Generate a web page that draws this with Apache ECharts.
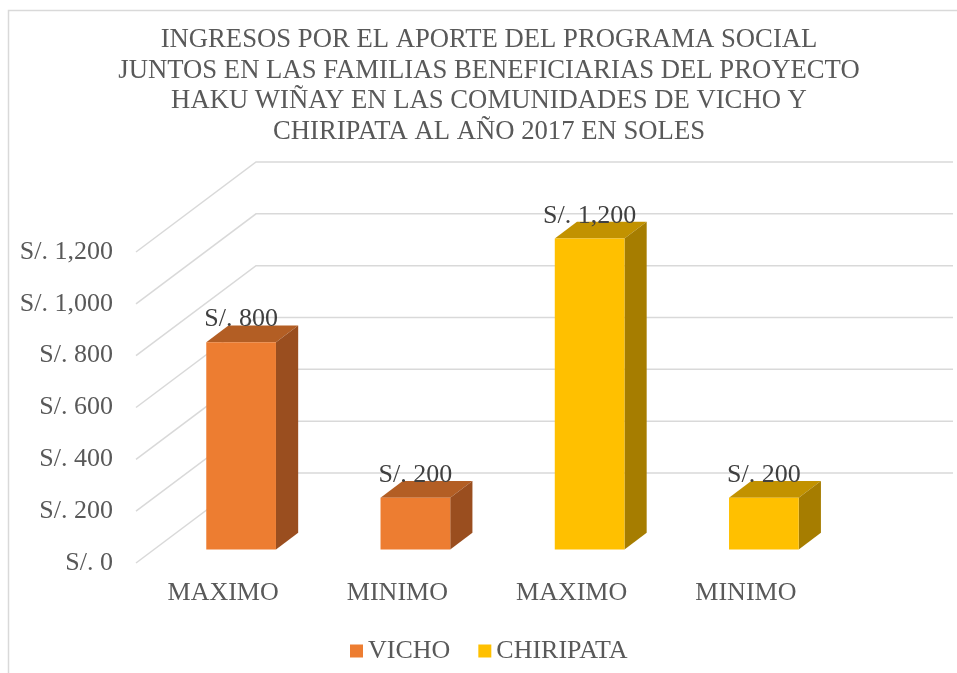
<!DOCTYPE html>
<html>
<head>
<meta charset="utf-8">
<script src="https://cdn.jsdelivr.net/npm/echarts@6/dist/echarts.min.js"></script>
<style>html,body{margin:0;padding:0;background:#fff}#c{width:957px;height:673px}</style>
</head>
<body>
<div id="c"></div>
<script>
const titleLines = [
  'INGRESOS POR EL APORTE DEL PROGRAMA SOCIAL',
  'JUNTOS EN LAS FAMILIAS BENEFICIARIAS DEL PROYECTO',
  'HAKU WIÑAY EN LAS COMUNIDADES DE VICHO Y',
  'CHIRIPATA AL AÑO 2017 EN SOLES'
];
const categories = ['MAXIMO', 'MINIMO', 'MAXIMO', 'MINIMO'];
const vichoValues = [800, 200, null, null];
const chiripataValues = [null, null, 1200, 200];
const tickValues = [0, 200, 400, 600, 800, 1000, 1200];

const FONT = '"Liberation Serif", "Times New Roman", serif';
const DEPTH_X = 120, DEPTH_Y = -90;     // floor depth vector (px)
const T0 = 0.15, T1 = 0.335;            // bar depth range as fraction of floor depth

function fmt(v) {
  return 'S/. ' + String(v).replace(/\B(?=(\d{3})+(?!\d))/g, ',');
}

function toData(arr) {
  const out = [];
  arr.forEach((v, i) => { if (v !== null) out.push([i, v]); });
  return out;
}

function barRenderer(front, top, side) {
  return function (params, api) {
    const i = api.value(0), v = api.value(1);
    const base = api.coord([i, 0]);
    const tp = api.coord([i, v]);
    const hw = api.size([1, 0])[0] * 0.2;
    const ox = DEPTH_X * T0, oy = DEPTH_Y * T0;
    const sx = DEPTH_X * (T1 - T0), sy = DEPTH_Y * (T1 - T0);
    const xl = base[0] + ox - hw, xr = base[0] + ox + hw;
    const yb = base[1] + oy, yt = tp[1] + oy;
    return {
      type: 'group',
      children: [
        { type: 'polygon', shape: { points: [[xl, yt], [xr, yt], [xr + sx, yt + sy], [xl + sx, yt + sy]] }, style: { fill: top } },
        { type: 'polygon', shape: { points: [[xr, yt], [xr + sx, yt + sy], [xr + sx, yb + sy], [xr, yb]] }, style: { fill: side } },
        { type: 'rect', shape: { x: xl, y: yt, width: xr - xl, height: yb - yt }, style: { fill: front } },
        { type: 'text', x: (xl + xr) / 2, y: yt + sy + 7, style: { text: fmt(v), fill: '#404040', font: '26px ' + FONT, align: 'center', verticalAlign: 'bottom' } }
      ]
    };
  };
}

const chart = echarts.init(document.getElementById('c'));
chart.setOption({
  backgroundColor: '#fff',
  animation: false,
  title: {
    text: titleLines.join('\n'),
    left: 484,
    top: 20,
    textAlign: 'center',
    textStyle: { fontFamily: FONT, fontSize: 26.7, fontWeight: 'normal', color: '#595959', lineHeight: 30.5, align: 'center' }
  },
  graphic: [{
    type: 'rect', shape: { x: 8.5, y: 10.5, width: 1000, height: 700 },
    style: { fill: 'none', stroke: '#D9D9D9', lineWidth: 1.5 }, silent: true, z: -10
  }],
  legend: {
    data: ['VICHO', 'CHIRIPATA'],
    top: 633,
    left: 345,
    icon: 'rect',
    itemWidth: 13,
    itemHeight: 13,
    itemGap: 28,
    textStyle: { fontFamily: FONT, fontSize: 26, color: '#595959' }
  },
  grid: { left: 136, top: 252, width: 697, height: 311 },
  xAxis: {
    type: 'category',
    data: categories,
    axisLine: { show: false },
    axisTick: { show: false },
    axisLabel: { margin: 17, fontFamily: FONT, fontSize: 26, color: '#595959' }
  },
  yAxis: {
    type: 'value',
    min: 0, max: 1200, interval: 200,
    axisLine: { show: false },
    axisTick: { show: false },
    splitLine: { show: false },
    axisLabel: { margin: 23, fontFamily: FONT, fontSize: 26, color: '#595959', formatter: fmt }
  },
  series: [
    {
      type: 'custom',
      name: 'walls',
      silent: true,
      z: 1,
      data: tickValues.map(v => [0, v]),
      encode: { x: 0, y: 1 },
      renderItem: function (params, api) {
        const cs = params.coordSys;
        const p = api.coord([0, api.value(1)]);
        const x0 = cs.x, y = p[1];
        const bx = x0 + DEPTH_X, by = y + DEPTH_Y;
        return {
          type: 'polyline',
          shape: { points: [[x0, y], [bx, by], [cs.x + cs.width + DEPTH_X, by]] },
          style: { stroke: '#D9D9D9', lineWidth: 1.5, fill: null }
        };
      }
    },
    {
      type: 'custom', name: 'VICHO', z: 5,
      itemStyle: { color: '#ED7D31' },
      data: toData(vichoValues),
      encode: { x: 0, y: 1 },
      renderItem: barRenderer('#ED7D31', '#B35E24', '#9A4E1F')
    },
    {
      type: 'custom', name: 'CHIRIPATA', z: 5,
      itemStyle: { color: '#FFC000' },
      data: toData(chiripataValues),
      encode: { x: 0, y: 1 },
      renderItem: barRenderer('#FFC000', '#C29200', '#A67D00')
    }
  ]
});
</script>
</body>
</html>
